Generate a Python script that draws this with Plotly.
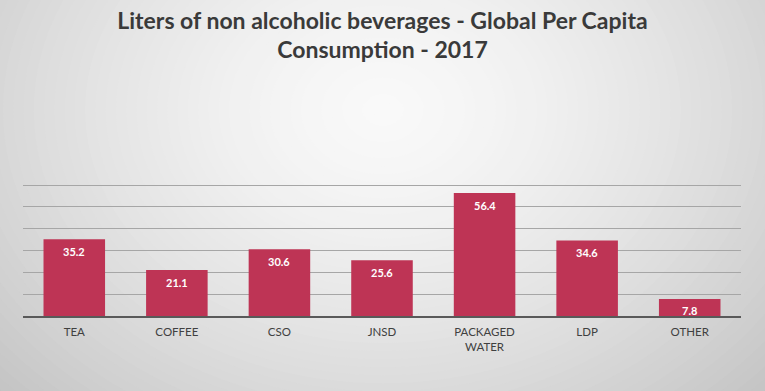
import plotly.graph_objects as go

categories = ["TEA", "COFFEE", "CSO", "JNSD", "PACKAGED<br>WATER", "LDP", "OTHER"]
values = [35.2, 21.1, 30.6, 25.6, 56.4, 34.6, 7.8]
title_text = "Liters of non alcoholic beverages - Global Per Capita<br>Consumption - 2017"

W, H = 765, 391
ML, MR, MT, MB = 23, 24, 183, 75

fig = go.Figure()
fig.add_trace(go.Bar(
    x=categories, y=values,
    marker=dict(color="#BE3455", line=dict(width=0)),
    hoverinfo="x+y",
))

# data labels inside near the top of each bar
annotations = [
    dict(x=c, y=v, xref="x", yref="y", text=f"{v:.1f}", showarrow=False,
         yanchor="middle", yshift=-12,
         font=dict(family="Lato", size=11, color="white", weight="bold"))
    for c, v in zip(categories, values)
]

# radial gradient background made of concentric ellipses (figure pixel geometry -> plot paper coords)
pw, ph = W - ML - MR, H - MT - MB
def px_to_paper(px, py):
    return (px - ML) / pw, (H - MB - py) / ph

shapes = []
n = 60
rmax = 1.3
cxp, cyp = 383, 110
for i in range(n):
    r = rmax * (1 - i / n)
    c = int(round(249 - 45 * min(r, 1.2) ** 1.5))
    rx, ry = 474 * r, 371 * r
    x0, y0 = px_to_paper(cxp - rx, cyp + ry)
    x1, y1 = px_to_paper(cxp + rx, cyp - ry)
    shapes.append(dict(type="circle", xref="paper", yref="paper",
                       x0=x0, x1=x1, y0=y0, y1=y1,
                       fillcolor=f"rgb({c},{c},{c})", line=dict(width=0),
                       layer="below"))

fig.update_layout(
    width=W, height=H,
    margin=dict(l=ML, r=MR, t=MT, b=MB),
    paper_bgcolor="rgb(196,196,196)",
    plot_bgcolor="rgba(0,0,0,0)",
    shapes=shapes,
    annotations=annotations,
    title=dict(text=title_text, x=0.5, xanchor="center", y=0.927, yanchor="top",
               font=dict(family="Lato", size=23, color="#3a3a3a", weight="bold")),
    bargap=0.4,
    showlegend=False,
    xaxis=dict(showgrid=False, showline=True, linecolor="#595959", linewidth=2,
               ticks="", ticklabelstandoff=4,
               tickfont=dict(family="Lato", size=11.5, color="#404040")),
    yaxis=dict(range=[0, 61], tickvals=[10, 20, 30, 40, 50, 60], showgrid=True,
               gridcolor="#a6a6a6", gridwidth=1,
               showticklabels=False, zeroline=False, showline=False),
)

fig.write_html("out.html", config={"displayModeBar": False},
               post_script="document.body.style.margin='0';document.body.style.overflow='hidden';")
